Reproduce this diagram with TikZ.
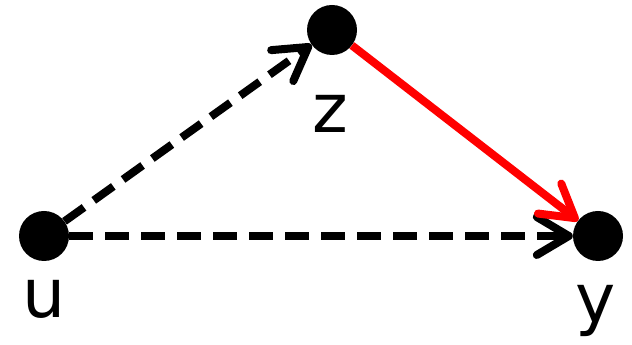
\documentclass[tikz,border=0pt]{standalone}
\usepackage{fontspec}
\setmainfont{DejaVu Sans}
\usetikzlibrary{arrows.meta}
\begin{document}
\begin{tikzpicture}[x=1pt,y=1pt,
  dot/.style={circle,fill=black,inner sep=0pt,minimum size=50pt},
  lbl/.style={font=\fontsize{68}{68}\selectfont,anchor=base,inner sep=0pt},
  tip/.style={-{Straight Barb[length=32pt,width=38pt,line width=8pt,round]}},
  edge/.style={line width=8pt,tip},
  dashedge/.style={edge,dash pattern=on 24pt off 12pt}]
\useasboundingbox (0,0) rectangle (632,345);
\node[dot] (u) at (44,109) {};
\node[dot] (z) at (332,315) {};
\node[dot] (y) at (598,109) {};
\node[lbl] (lu) at (44,27) {u};
\node[lbl] (lz) at (330,212) {z};
\node[lbl] (ly) at (596,22) {y};
\draw[dashedge] (u) -- (z);
\draw[dashedge] (u) -- (y);
\draw[edge,red] (z) -- (y);
\end{tikzpicture}
\end{document}
